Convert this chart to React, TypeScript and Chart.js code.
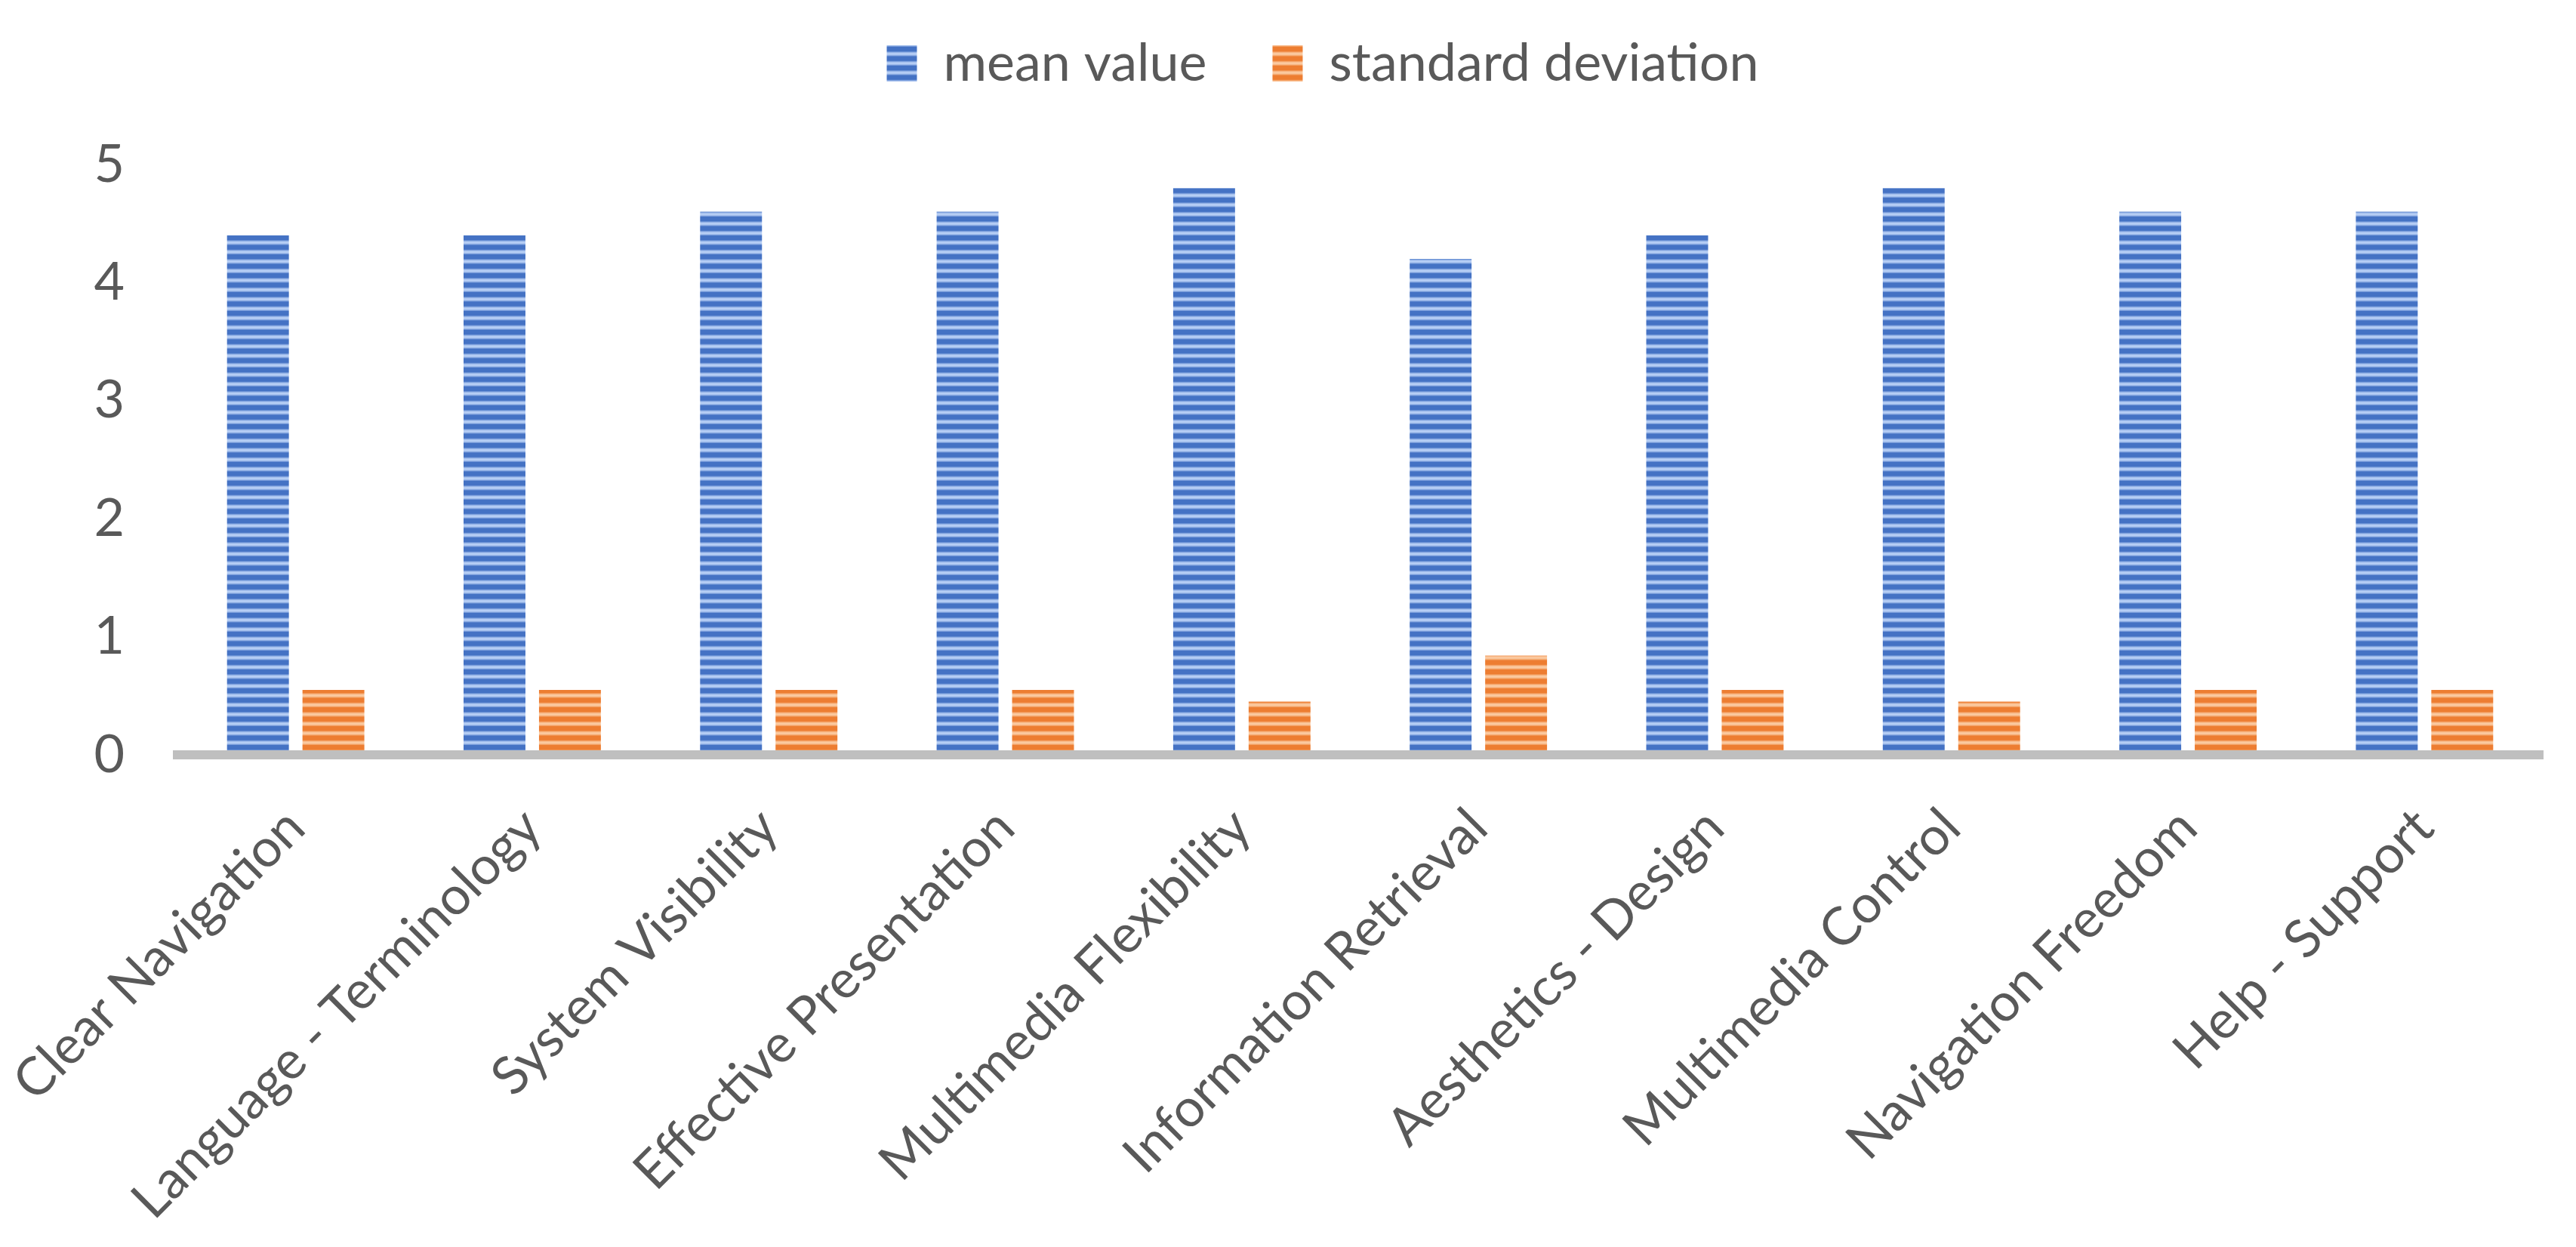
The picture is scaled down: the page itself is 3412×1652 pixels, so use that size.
import React, { useEffect, useRef } from 'react';
import { Chart, registerables } from 'chart.js';

Chart.register(...registerables);

const categories = [
  'Clear Navigation',
  'Language - Terminology',
  'System Visibility',
  'Effective Presentation',
  'Multimedia Flexibility',
  'Information Retrieval',
  'Aesthetics - Design',
  'Multimedia Control',
  'Navigation Freedom',
  'Help - Support',
];
const meanValues = [4.4, 4.4, 4.6, 4.6, 4.8, 4.2, 4.4, 4.8, 4.6, 4.6];
const stdDeviation = [0.55, 0.55, 0.55, 0.55, 0.45, 0.84, 0.55, 0.45, 0.55, 0.55];
const seriesNames = ['mean value', 'standard deviation'];
const yTickValues = [0, 1, 2, 3, 4, 5];

const FONT = 'Lato, "Open Sans", sans-serif';
const TEXT = '#595959';

function stripePattern(
  ctx: CanvasRenderingContext2D,
  dark: number[],
  light: number[]
): CanvasPattern | string {
  const c = document.createElement('canvas');
  c.width = 8;
  c.height = 25;
  const g = c.getContext('2d');
  if (!g) return `rgb(${dark.join(',')})`;
  for (let y = 0; y < 25; y++) {
    const phase = ((y + 0.5) % 12.5) / 12.5;
    let a = 0;
    if (phase > 0.42) a = Math.sin((Math.PI * (phase - 0.42)) / 0.58);
    a = Math.max(0, Math.min(1, a));
    const col = dark.map((d, i) => Math.round(d + (light[i] - d) * a));
    g.fillStyle = `rgb(${col[0]},${col[1]},${col[2]})`;
    g.fillRect(0, y, 8, 1);
  }
  return ctx.createPattern(c, 'repeat') || `rgb(${dark.join(',')})`;
}

export default function App() {
  const canvasRef = useRef<HTMLCanvasElement | null>(null);

  useEffect(() => {
    document.body.style.margin = '0';
    document.body.style.overflow = 'hidden';
    let chart: Chart | null = null;
    let cancelled = false;

    const build = () => {
      if (cancelled || !canvasRef.current) return;
      const ctx = canvasRef.current.getContext('2d');
      if (!ctx) return;
      const bluePattern = stripePattern(ctx, [68, 114, 196], [185, 208, 246]);
      const orangePattern = stripePattern(ctx, [237, 125, 49], [251, 203, 162]);

      chart = new Chart(ctx, {
        type: 'bar',
        data: {
          labels: categories,
          datasets: [
            {
              label: seriesNames[0],
              data: meanValues,
              backgroundColor: bluePattern as any,
              borderWidth: 0,
              categoryPercentage: 0.638,
              barPercentage: 0.82,
            },
            {
              label: seriesNames[1],
              data: stdDeviation,
              backgroundColor: orangePattern as any,
              borderWidth: 0,
              categoryPercentage: 0.638,
              barPercentage: 0.82,
            },
          ],
        },
        options: {
          responsive: false,
          animation: false,
          devicePixelRatio: 1,
          layout: { padding: { top: -38, left: 92, right: 0, bottom: 0 } },
          plugins: {
            legend: {
              display: true,
              position: 'top',
              labels: {
                color: TEXT,
                font: { family: FONT, size: 70 },
                boxWidth: 40,
                boxHeight: 48,
                padding: 87,
              },
            },
            subtitle: {
              display: true,
              text: '',
              position: 'top',
              weight: 500,
              font: { family: FONT, size: 10, lineHeight: 1.2 },
              padding: { top: 77, bottom: 0 },
            } as any,
            tooltip: { enabled: false },
          },
          scales: {
            x: {
              grid: { display: false, drawTicks: false },
              border: { display: true, color: '#bfbfbf', width: 12, z: 1 },
              ticks: {
                color: TEXT,
                font: { family: FONT, size: 70 },
                minRotation: 45,
                maxRotation: 45,
                autoSkip: false,
                padding: 55,
              },
              afterFit: (scale: any) => {
                scale.paddingLeft = 235;
                scale.paddingRight = 44;
                scale.paddingTop = 0;
                scale.paddingBottom = 0;
                scale.height = 652;
              },
            },
            y: {
              min: 0,
              max: 5,
              grid: { display: false, drawTicks: false },
              border: { display: false },
              afterBuildTicks: (scale: any) => {
                scale.ticks = yTickValues.map((v) => ({ value: v }));
              },
              ticks: {
                color: TEXT,
                font: { family: FONT, size: 70 },
                padding: 70,
              },
              afterFit: (scale: any) => {
                scale.width = 235 - 92;
                scale.paddingTop = 0;
                scale.paddingBottom = 0;
              },
            },
          },
        },
      });
    };

    const fontsReady = (document as any).fonts
      ? Promise.all([(document as any).fonts.load(`70px Lato`)]).catch(() => null)
      : Promise.resolve(null);
    fontsReady.then(build);

    return () => {
      cancelled = true;
      if (chart) chart.destroy();
    };
  }, []);

  return (
    <div style={{ width: 3412, height: 1652, background: '#ffffff' }}>
      <canvas
        ref={canvasRef}
        width={3412}
        height={1652}
        style={{ display: 'block', width: 3412, height: 1652 }}
      />
    </div>
  );
}
